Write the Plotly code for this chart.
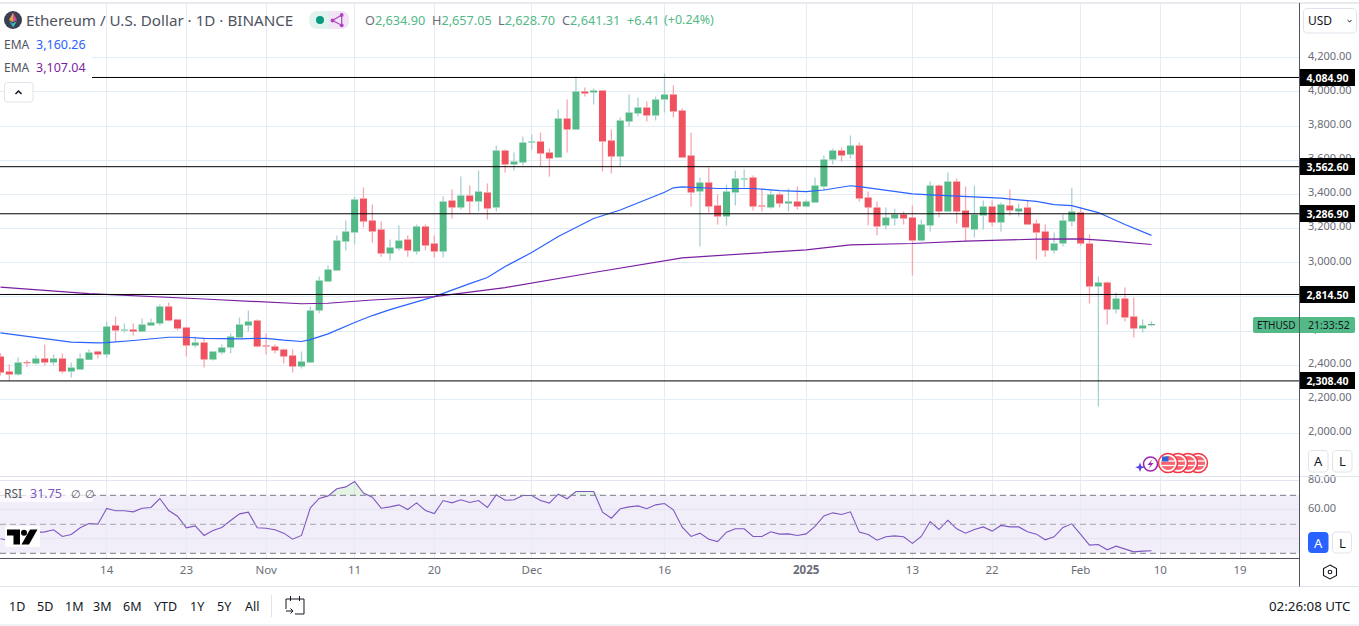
import pandas as pd
import plotly.graph_objects as go

W, H = 1359, 626
dates = pd.date_range("2024-10-02", "2025-02-09", freq="D")

opens = [2451,2363,2346,2418,2410,2439,2416,2439,2363,2375,2433,2480,2463,2633,2603,2609,2597,2633,2644,2744,2668,2621,2515,2533,2434,2474,2504,2562,2633,2662,
         2515,2510,2492,2457,2393,2416,2720,2890,2955,3124,3177,3376,3247,3195,3054,3083,3136,3066,3212,3113,3066,3364,3323,3394,3359,3411,3323,3657,3575,3587,
         3704,3710,3645,3616,3845,3780,4003,3997,4008,3716,3622,3827,3874,3909,3862,3956,3985,3891,3628,3417,3470,3335,3271,3411,3487,3499,3335,3324,3400,3347,3359,
         3329,3353,3446,3604,3657,3634,3687,3382,3323,3218,3259,3282,3265,3130,3218,3452,3300,3476,3306,3195,3277,3329,3236,3335,3300,3323,3230,3183,3072,3113,3241,
         3294,3113,2861,2884,2726,2791,2685,2615,2634.90]
highs = [2470,2404,2445,2431,2457,2521,2463,2469,2416,2469,2492,2486,2656,2685,2644,2644,2674,2674,2756,2767,2668,2627,2568,2562,2480,2521,2586,2679,2720,2668,
         2586,2521,2498,2492,2480,2744,2919,2984,3159,3247,3388,3441,3341,3241,3136,3218,3159,3224,3224,3159,3388,3429,3505,3452,3540,3464,3686,3663,3645,3739,
         3751,3763,3669,3897,3956,4090,4026,4020,4008,3780,3850,3985,3967,3944,3973,4108,4038,3903,3763,3499,3558,3400,3458,3540,3546,3511,3435,3423,3411,3435,3446,
         3370,3499,3628,3669,3675,3745,3704,3417,3359,3323,3317,3300,3335,3253,3476,3458,3528,3493,3446,3452,3364,3364,3353,3429,3347,3364,3253,3224,3177,3282,3440,
         3323,3165,2920,2890,2826,2855,2797,2668,2657.05]
lows = [2340,2310,2340,2392,2404,2398,2398,2352,2328,2375,2433,2439,2445,2537,2592,2574,2597,2630,2633,2656,2603,2451,2504,2387,2428,2463,2469,2562,2597,2504,
        2463,2469,2410,2357,2381,2416,2705,2890,2955,3072,3107,3206,3118,3036,3013,3072,3036,3048,3072,3031,3031,3259,3312,3288,3300,3253,3300,3528,3540,3569,
        3663,3563,3505,3616,3645,3780,3973,3926,3534,3522,3563,3798,3856,3827,3833,3880,3850,3616,3329,3095,3294,3224,3218,3335,3441,3306,3300,3318,3324,3300,3312,
        3329,3353,3423,3575,3593,3610,3359,3218,3160,3195,3218,3224,2925,3124,3183,3265,3300,3230,3124,3148,3195,3212,3183,3277,3271,3224,3019,3036,3054,3095,3212,
        3101,2761,2158,2638,2703,2656,2562,2592,2628.70]
closes = [2357,2346,2416,2412,2439,2416,2439,2363,2387,2439,2474,2463,2627,2603,2609,2597,2638,2650,2744,2662,2615,2515,2533,2434,2480,2504,2568,2638,2656,2510,
          2510,2486,2451,2393,2422,2720,2896,2960,3130,3183,3370,3241,3183,3054,3089,3130,3072,3212,3101,3066,3359,3323,3394,3359,3417,3318,3657,3575,3593,3704,
          3710,3640,3610,3845,3780,4003,3991,4008,3710,3622,3833,3880,3909,3862,3956,3985,3885,3616,3411,3470,3329,3271,3417,3493,3493,3329,3329,3400,3347,3359,3329,
          3359,3452,3604,3657,3628,3687,3376,3323,3212,3265,3282,3259,3130,3224,3452,3300,3476,3300,3206,3282,3329,3236,3341,3306,3318,3224,3177,3072,3113,3247,3300,
          3113,2861,2884,2726,2791,2679,2615,2633,2641.31]

rsi_values = [40.0,38.8,43.4,43.9,44.6,44.8,46.2,41.6,43.0,47.6,50.5,50.1,60.9,59.3,59.3,58.6,61.1,61.6,67.8,59.5,55.6,47.6,48.9,42.3,45.7,47.8,52.6,57.2,58.4,47.6,
              47.3,46.2,43.9,39.7,42.3,61.3,67.8,69.6,74.5,75.8,79.5,71.5,68.7,61.1,62.0,63.4,60.2,64.8,59.5,57.4,66.4,64.8,66.9,65.0,66.4,61.6,70.3,66.6,66.9,69.9,
              69.9,66.4,64.6,70.8,67.6,72.6,72.6,72.6,58.4,54.2,60.7,62.0,62.7,60.7,63.4,64.3,60.0,48.0,41.6,43.9,39.7,38.1,44.6,46.9,46.9,41.6,41.6,44.8,43.2,43.4,42.3,
              43.4,48.5,55.8,57.9,56.8,58.6,44.6,43.0,39.0,41.4,42.0,41.4,36.8,41.6,51.9,46.4,52.8,46.9,43.9,46.4,48.2,45.3,49.2,48.2,48.2,44.8,43.2,39.3,41.4,47.8,50.3,
              43.0,35.6,36.1,32.4,34.9,32.8,31.0,31.5,31.75]

ema_fast_dates = ["2024-10-02","2024-10-06","2024-10-10","2024-10-13","2024-10-14","2024-10-17","2024-10-21","2024-10-23","2024-10-25","2024-10-29","2024-11-01","2024-11-03","2024-11-05","2024-11-06","2024-11-08","2024-11-11","2024-11-13","2024-11-15","2024-11-20","2024-11-24","2024-11-26","2024-11-28","2024-12-01","2024-12-04","2024-12-08","2024-12-11","2024-12-14","2024-12-16","2024-12-17","2024-12-18","2024-12-22","2024-12-26","2024-12-29","2025-01-01","2025-01-03","2025-01-06","2025-01-07","2025-01-13","2025-01-15","2025-01-19","2025-01-23","2025-01-27","2025-01-29","2025-01-31","2025-02-03","2025-02-06","2025-02-09"]
ema_fast_values = [2590,2564,2535,2531,2533,2545,2564,2564,2558,2555,2558,2547,2539,2550,2584,2650,2691,2726,2802,2878,2914,2978,3060,3154,3259,3309,3370,3413,3439,3444,3435,3435,3423,3417,3426,3451,3446,3404,3398,3388,3378,3359,3341,3335,3294,3224,3160.26]
ema_slow_dates = ["2024-10-02","2024-10-12","2024-10-25","2024-11-05","2024-11-08","2024-11-13","2024-11-20","2024-11-28","2024-12-08","2024-12-14","2024-12-18","2025-01-01","2025-01-06","2025-01-13","2025-01-19","2025-01-27","2025-02-01","2025-02-04","2025-02-09"]
ema_slow_values = [2857,2820,2788,2760,2763,2782,2802,2855,2943,2996,3029,3076,3105,3113,3127,3138,3140,3130,3107.04]

levels = [4084.90, 3562.60, 3286.90, 2814.50, 2308.40]
price_ticks = [4200, 4000, 3800, 3600, 3400, 3200, 3000, 2800, 2600, 2400, 2200, 2000]
price_tick_labels = ["4,200.00", "4,000.00", "3,800.00", "3,600.00", "3,400.00", "3,200.00", "3,000.00", "", "2,600.00", "2,400.00", "2,200.00", "2,000.00"]
rsi_ticks = [80, 60, 40]
rsi_tick_labels = ["80.00", "60.00", ""]
rsi_bands = [70, 50, 30]
time_tick_dates = ["2024-10-14","2024-10-23","2024-11-01","2024-11-11","2024-11-20","2024-12-01","2024-12-16","2025-01-01","2025-01-13","2025-01-22","2025-02-01","2025-02-10","2025-02-19"]
time_tick_labels = ["14","23","Nov","11","20","Dec","16","<b>2025</b>","13","22","Feb","10","19"]
range_buttons = [("1D",17),("5D",45),("1M",74),("3M",103),("6M",132),("YTD",165),("1Y",197),("5Y",224),("All",252)]

assert len(dates) == len(opens) == len(highs) == len(lows) == len(closes) == len(rsi_values), (len(dates), len(opens), len(highs), len(lows), len(closes), len(rsi_values))

FONT = "Noto Sans"
UP, DOWN = "#53b987", "#f0515f"
UP_WICK, DOWN_WICK = "#a7d0d3", "#f7a6b2"
GRID = "#e3edf3"
AXIS = "#50535e"
LABEL = "#6a6d78"
DARK = "#131722"
BORDER = "#e0e3eb"

def px(x): return x / W
def py(y): return 1 - y / H
def path(points, close=True):
    s = "M " + " L ".join(f"{px(x):.5f},{py(y):.5f}" for x, y in points)
    return s + (" Z" if close else "")
def rrect(x0, y0, x1, y1, r):
    P = lambda x, y: f"{px(x):.5f},{py(y):.5f}"
    return (f"M {P(x0+r,y0)} L {P(x1-r,y0)} Q {P(x1,y0)} {P(x1,y0+r)} L {P(x1,y1-r)} Q {P(x1,y1)} {P(x1-r,y1)} "
            f"L {P(x0+r,y1)} Q {P(x0,y1)} {P(x0,y1-r)} L {P(x0,y0+r)} Q {P(x0,y0)} {P(x0+r,y0)} Z")

shapes, annots = [], []
def add_path(d, fill="rgba(0,0,0,0)", line=None, lw=0):
    shapes.append(dict(type="path", xref="paper", yref="paper", path=d, fillcolor=fill,
                       line=dict(color=line or "rgba(0,0,0,0)", width=lw), layer="above"))
def add_rect(x0, y0, x1, y1, fill, r=0, line=None, lw=0):
    add_path(rrect(x0, y0, x1, y1, r) if r else path([(x0,y0),(x1,y0),(x1,y1),(x0,y1)]), fill, line, lw)
def add_hline(x0, x1, y, color, lw=1):
    add_path(path([(x0,y),(x1,y)], close=False), line=color, lw=lw)
def add_vline(x, y0, y1, color, lw=1):
    add_path(path([(x,y0),(x,y1)], close=False), line=color, lw=lw)
def add_circle(cx, cy, r, fill="rgba(0,0,0,0)", line=None, lw=0):
    shapes.append(dict(type="circle", xref="paper", yref="paper", x0=px(cx-r), x1=px(cx+r), y0=py(cy+r), y1=py(cy-r),
                       fillcolor=fill, line=dict(color=line or "rgba(0,0,0,0)", width=lw), layer="above"))
def text(x, y, s, size=13, color=DARK, anchor="left"):
    annots.append(dict(xref="paper", yref="paper", x=px(x), y=py(y), text=s, showarrow=False, xanchor=anchor,
                       yanchor="middle", font=dict(family=FONT, size=size, color=color), borderpad=0, borderwidth=0))

fig = go.Figure()

def wick_trace(want_up, color):
    xs, ys = [], []
    for d, o, h, l, c in zip(dates, opens, highs, lows, closes):
        if (c >= o) == want_up:
            xs += [d, d, None, d, d, None]
            ys += [l, min(o, c), None, max(o, c), h, None]
    return go.Scatter(x=xs, y=ys, mode="lines", line=dict(color=color, width=1.3), hoverinfo="skip", showlegend=False)

fig.add_trace(wick_trace(True, UP_WICK))
fig.add_trace(wick_trace(False, DOWN_WICK))
fig.add_trace(go.Candlestick(x=dates, open=opens, close=closes,
                             high=[max(o, c) for o, c in zip(opens, closes)],
                             low=[min(o, c) for o, c in zip(opens, closes)],
                             increasing=dict(fillcolor=UP, line=dict(color=UP, width=0)),
                             decreasing=dict(fillcolor=DOWN, line=dict(color=DOWN, width=0)),
                             showlegend=False))
fig.add_trace(go.Scatter(x=ema_fast_dates, y=ema_fast_values, mode="lines", line=dict(color="#2962ff", width=1.2), showlegend=False))
fig.add_trace(go.Scatter(x=ema_slow_dates, y=ema_slow_values, mode="lines", line=dict(color="#7b1fa2", width=1.2), showlegend=False))

# RSI pane
fig.add_trace(go.Scatter(x=dates, y=[rsi_bands[0]] * len(dates), yaxis="y2", mode="lines", line=dict(width=0), showlegend=False, hoverinfo="skip"))
fig.add_trace(go.Scatter(x=dates, y=[max(r, rsi_bands[0]) for r in rsi_values], yaxis="y2", mode="lines", line=dict(width=0),
                         fill="tonexty", fillcolor="rgba(76,175,80,0.14)", showlegend=False, hoverinfo="skip"))
fig.add_trace(go.Scatter(x=dates, y=rsi_values, yaxis="y2", mode="lines", line=dict(color="#7e57c2", width=1.1), showlegend=False))

# RSI band
below = [dict(type="rect", xref="paper", yref="y2", x0=0, x1=1299 / W, y0=rsi_bands[2], y1=rsi_bands[0],
              fillcolor="rgba(126,87,194,0.1)", line=dict(width=0), layer="below")]
shapes += below
for v, col in zip(rsi_bands, ["#787b86", "#a3a6af", "#787b86"]):
    shapes.append(dict(type="line", xref="paper", yref="y2", x0=0, x1=1299 / W, y0=v, y1=v,
                       line=dict(color=col, width=1, dash="6px,4px"), layer="above"))

# horizontal levels
for v in levels:
    shapes.append(dict(type="line", xref="paper", yref="y", x0=0, x1=1299 / W, y0=v, y1=v,
                       line=dict(color="#000000", width=1), layer="above"))

# chrome lines
add_hline(0, W, 3, BORDER, 1.5)
add_hline(0, W, 476.5, BORDER, 1)
add_hline(0, 1299.5, 558.5, AXIS, 1)
add_hline(0, W, 586.5, BORDER, 1)
add_hline(0, W, 625, BORDER, 1)

# legend backing
add_rect(0, 35, 92, 79, "#ffffff")
add_rect(0, 485, 93, 502, "rgba(255,255,255,0.72)")

# header: ethereum logo
add_circle(13, 20, 9, "#3b3f52")
add_path(path([(13,12.5),(9,20),(13,22.3)]), "#e9a23b")
add_path(path([(13,12.5),(17,20),(13,22.3)]), "#c9569f")
add_path(path([(9,21),(13,27.5),(13,23.5)]), "#27a5dc")
add_path(path([(17,21),(13,27.5),(13,23.5)]), "#2fcf9f")
text(26, 20, "Ethereum / U.S. Dollar · 1D · BINANCE", 15.2, "#50535e")
# status pill
add_rect(309, 11, 349, 29, "#e0f3ef", r=9)
add_path(rrect(329, 11, 349, 29, 8), "#f3e3f6")
add_rect(329, 11, 337, 29, "#f3e3f6")
add_circle(320, 20, 4, "#089981")
add_path(path([(341.7,15),(332.5,20.5),(341.7,25.3)], close=False), line="#ab47bc", lw=1.2)
add_path(path([(341.7,15),(341.7,25.3)], close=False), line="#ab47bc", lw=1.2)
for cx, cy in [(341.7,15),(332.5,20.5),(341.7,25.3)]:
    add_circle(cx, cy, 1.9, "#ab47bc")
# OHLC
G = UP
for x, key, val in [(365,"O","2,634.90"),(432,"H","2,657.05"),(498,"L","2,628.70"),(562,"C","2,641.31")]:
    text(x, 20, f'<span style="color:#6a6d78">{key}</span>{val}', 12.7, G)
text(627, 20, "+6.41", 12.7, G)
text(664, 20, "(+0.24%)", 12.5, G)

# EMA legends
text(4, 44, "EMA", 12, "#50535e"); text(36, 44, "3,160.26", 12.5, "#2962ff")
text(4, 68, "EMA", 12, "#50535e"); text(36, 68, "3,107.04", 12.5, "#7b1fa2")
add_rect(4.5, 82.5, 33, 102, "#ffffff", r=3, line=BORDER, lw=1)
add_path(path([(15.5,94),(18.5,91),(21.5,94)], close=False), line=DARK, lw=1.5)

# RSI legend
text(4, 493, "RSI", 12, "#50535e"); text(30, 493, "31.75", 12.5, "#7e57c2")
text(71, 493, "∅", 11, "#50535e"); text(85, 493, "∅", 11, "#50535e")

# TV logo
add_rect(5, 526, 40, 547, "#ffffff", r=2)
add_path(path([(7,529.5),(20,529.5),(20,544.5),(13.5,544.5),(13.5,535.5),(7,535.5)]), "#000000")
add_circle(24, 532.7, 3, "#000000")
add_path(path([(30,529.5),(37.5,529.5),(29,544.5),(21.5,544.5)]), "#000000")

# event icons
add_circle(1150.5, 464, 7, "#ffffff", "#9c27b0", 1.6)
add_path(path([(1152.5,459),(1147.5,465),(1150.5,465),(1148.5,469),(1153.5,463),(1150.5,463)]), "#9c27b0")
add_path(path([(1140,462.5),(1141.3,466),(1144.8,467.3),(1141.3,468.6),(1140,472),(1138.7,468.6),(1135.2,467.3),(1138.7,466)]), "#5b45e0")
for cx in [1198, 1188, 1178, 1168]:
    add_circle(cx, 463, 9.5, "#ffffff", "#f23645", 1.5)
    add_circle(cx, 463, 7, "#f7636e")
    add_hline(cx-6.5, cx+6.5, 461, "#ffffff", 1.3)
    add_hline(cx-6.5, cx+6.5, 465.5, "#ffffff", 1.3)
add_rect(1162, 456.5, 1168.5, 461.5, "#2d62d8")

# right axis: USD selector
add_rect(1303.5, 8.5, 1356.5, 33, "#ffffff", r=4, line=BORDER, lw=1)
text(1308, 20.5, "USD", 12, DARK)
add_path(path([(1347.5,20),(1349.5,22),(1351.5,20)], close=False), line=DARK, lw=1)

# price tags
for v in levels:
    annots.append(dict(xref="paper", yref="y", x=1300 / W, y=v, text=f"<b>{v:,.2f}</b>", showarrow=False, xanchor="left",
                       yanchor="middle", width=55, height=17, align="center", bgcolor="#000000",
                       font=dict(family=FONT, size=10.5, color="#ffffff"), borderpad=0, borderwidth=0))
# countdown tag
add_rect(1253, 317, 1355, 333, UP, r=2)
text(1257, 325, "ETHUSD", 10, "#131722")
text(1308, 325, "21:33:52", 10.5, "#131722")

# auto / log buttons
add_rect(1308.5, 450.5, 1328, 472, "#ffffff", r=4, line=BORDER, lw=1)
add_rect(1332.5, 450.5, 1352, 472, "#ffffff", r=4, line=BORDER, lw=1)
text(1318, 461, "A", 13, DARK, "center"); text(1342, 461, "L", 13, DARK, "center")
add_rect(1308, 532, 1328.5, 553, "#2962ff", r=4)
add_rect(1332.5, 532, 1351.5, 553, "#ffffff", r=4, line=BORDER, lw=1)
text(1318, 542.5, "A", 13, "#ffffff", "center"); text(1342, 542.5, "L", 13, DARK, "center")

# divider (on top of the countdown tag)
add_vline(1299.5, 3, 586.5, AXIS, 1)

# gear hexagon
add_path(path([(1330,565),(1336.5,568.5),(1336.5,575.5),(1330,579),(1323.5,575.5),(1323.5,568.5)]), line=DARK, lw=1.1)
add_circle(1330, 572, 1.8, "rgba(0,0,0,0)", DARK, 1.1)

# bottom bar
for lab, x in range_buttons:
    text(x, 606, lab, 12.5, DARK, "center")
add_vline(271.5, 595, 617, BORDER, 1)
add_path(path([(286,599),(304,599),(304,614),(295,614)], close=False), line=DARK, lw=1)
add_path(path([(286,609),(286,599)], close=False), line=DARK, lw=1)
add_vline(290.5, 596, 601, DARK, 1); add_vline(299.5, 596, 601, DARK, 1)
add_path(path([(286,611),(293,611)], close=False), line=DARK, lw=1)
add_path(path([(290.5,608.5),(293,611),(290.5,613.5)], close=False), line=DARK, lw=1)
text(1350, 606, "02:26:08 UTC", 13.3, DARK, "right")

tick_font = dict(family=FONT, size=11, color=LABEL)
fig.update_layout(
    width=W, height=H, autosize=False, margin=dict(l=0, r=0, t=0, b=0, pad=0, autoexpand=False),
    paper_bgcolor="#ffffff", plot_bgcolor="#ffffff", showlegend=False, hovermode=False,
    boxmode="overlay", boxgap=0.21, boxgroupgap=0,
    font=dict(family=FONT),
    xaxis=dict(domain=[0, 1299 / W], anchor="y2", type="date",
               range=["2024-10-01 22:48", "2025-02-25 15:50"], rangeslider=dict(visible=False),
               tickmode="array", tickvals=time_tick_dates, ticktext=time_tick_labels,
               showgrid=True, gridcolor=GRID, gridwidth=1, zeroline=False, showline=False, ticks="",
               tickfont=dict(family=FONT, size=11.5, color=LABEL), ticklabelstandoff=3),
    yaxis=dict(domain=[py(476.8), py(3.5)], side="right", range=[1747, 4518], tickmode="array", tickvals=price_ticks,
               ticktext=price_tick_labels, showgrid=True, gridcolor=GRID, gridwidth=1, zeroline=False, showline=False,
               ticks="", tickfont=tick_font, ticklabelstandoff=8, ticklabelshift=-2),
    yaxis2=dict(domain=[py(558.8), py(476.8)], side="right", range=[26.2, 82.76], tickmode="array", tickvals=rsi_ticks,
                ticktext=rsi_tick_labels, showgrid=True, gridcolor="#e3e6f0", gridwidth=1, zeroline=False, showline=False,
                ticks="", tickfont=tick_font, ticklabelstandoff=8, ticklabelshift=-2),
    shapes=shapes, annotations=annots,
)
fig.write_html("out.html", config=dict(displayModeBar=False, staticPlot=True),
               post_script="document.body.style.margin='0';")
